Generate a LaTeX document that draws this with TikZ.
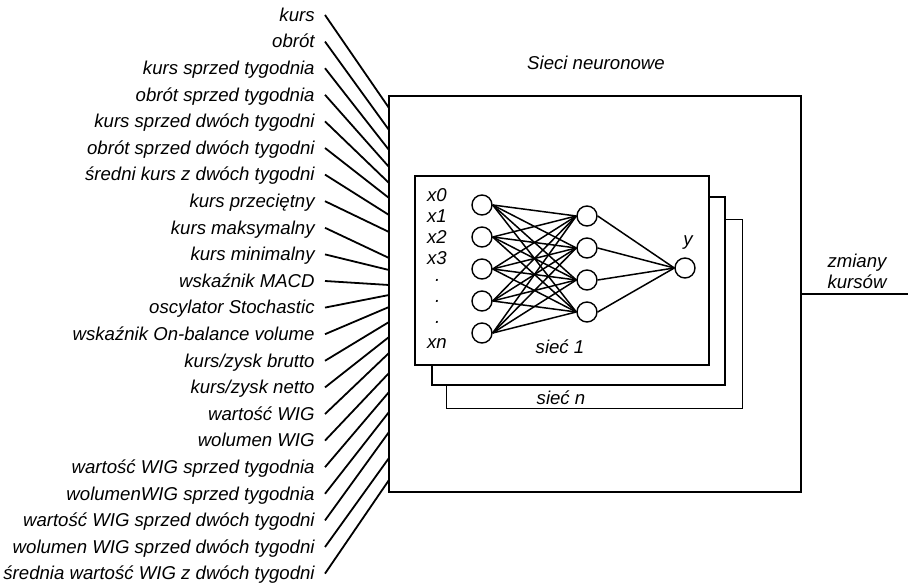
\documentclass[tikz,border=0pt]{standalone}
\usepackage{fontspec}
\setmainfont{Liberation Sans}
\usetikzlibrary{positioning}

\begin{document}
\begin{tikzpicture}[
  x=0.5pt, y=-0.5pt,
  every node/.style={font=\itshape\fontsize{9.3}{10.5}\selectfont}
]
\tikzset{
  lab/.style    ={anchor=east, inner sep=5pt, text height=1.6ex, text depth=0.4ex},
  feed/.style   ={line width=0.9pt},
  frame/.style  ={draw=black, fill=white, inner sep=0pt, outer sep=0pt,
                  anchor=north west},
  neuron/.style ={circle, draw=black, line width=0.7pt, fill=white,
                  minimum size=10pt, inner sep=0pt},
  syn/.style    ={line width=0.75pt},
  txt/.style    ={inner sep=1pt, align=center}
}
\useasboundingbox (0,0) rectangle (911,587);

%% ----- Main box and title -----
\node[frame, line width=0.9pt, minimum width=206pt, minimum height=198pt]
  (main) at (389,96) {};
\node[txt] (title) at (596,63) {Sieci neuronowe};

%% ----- Input labels, feed lines into the box -----
\foreach \t [count=\i] in {kurs, obrót, kurs sprzed tygodnia,
    obrót sprzed tygodnia, kurs sprzed dwóch tygodni,
    obrót sprzed dwóch tygodni, średni kurs z dwóch tygodni,
    kurs przeciętny, kurs maksymalny, kurs minimalny, wskaźnik MACD,
    oscylator Stochastic, wskaźnik On-balance volume, kurs/zysk brutto,
    kurs/zysk netto, wartość WIG, wolumen WIG, wartość WIG sprzed tygodnia,
    wolumenWIG sprzed tygodnia, wartość WIG sprzed dwóch tygodni,
    wolumen WIG sprzed dwóch tygodni, średnia wartość WIG z dwóch tygodni}
  \node[lab] (l\i) at (325, {15+26.6*(\i-1)}) {\t};

\foreach \i/\y in {1/108, 2/130, 3/150, 4/167, 5/183, 6/198, 7/215, 8/232,
    9/258, 10/270, 11/285, 12/295, 13/307, 14/322, 15/337, 16/353, 17/373,
    18/392, 19/412, 20/432, 21/458, 22/480}
  \coordinate (e\i) at (389,\y);
\foreach \i in {1,...,22}
  \draw[feed] (l\i.east) -- (e\i);

%% ----- Stacked network frames -----
\node[frame, line width=0.45pt, minimum width=148pt, minimum height=94.5pt]
  (f3) at (446,219) {};
\node[frame, line width=0.65pt, minimum width=146.5pt, minimum height=94pt]
  (f2) at (432,197) {};
\node[frame, line width=0.85pt, minimum width=147pt, minimum height=94.5pt]
  (f1) at (415,176) {};

%% ----- Neurons and weights -----
\foreach \i in {1,...,5}
  \node[neuron] (in\i) at (482, {205+32*(\i-1)}) {};
\foreach \j in {1,...,4}
  \node[neuron] (hid\j) at (587, {216+32*(\j-1)}) {};
\node[neuron] (out) at (685,268) {};

\foreach \i in {1,...,5}
  \foreach \j in {1,...,4}
    \draw[syn] (in\i.east) -- (hid\j.west);
\foreach \j in {1,...,4}
  \draw[syn] (hid\j.east) -- (out.west);

\node[txt] (xs) at (437,269) {x0\\x1\\x2\\x3\\·\\·\\·\\xn};
\node[txt] (ylab) at (688,243) {y};
\node[txt] (s1) at (560,347) {sieć 1};
\node[txt] (sn) at (561,398) {sieć n};

%% ----- Output -----
\coordinate (res) at (908,294);
\draw[feed] (main.east) -- (res);
\node[txt] (outlab) at (857,271) {zmiany\\kursów};

\end{tikzpicture}
\end{document}
